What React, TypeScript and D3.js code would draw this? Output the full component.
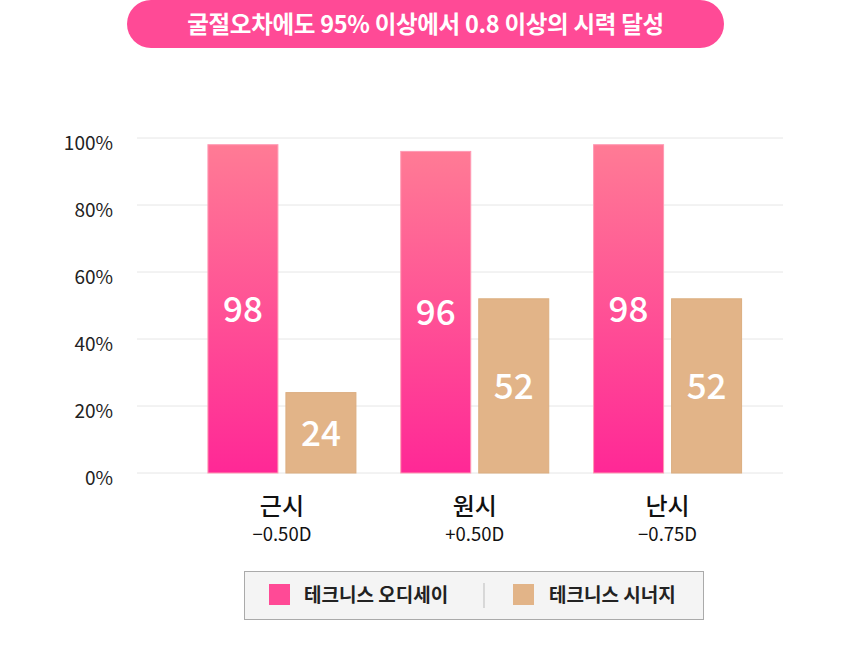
import React from 'react'
import * as d3 from 'd3'

// 굴절오차별 0.8 이상 시력 달성률 (%)
const categories = ['근시', '원시', '난시']
const diopters = ['−0.50D', '+0.50D', '−0.75D']
const seriesNames = ['테크니스 오디세이', '테크니스 시너지']
const odysseyValues = [98, 96, 98]
const synergyValues = [24, 52, 52]
const yTicks = [0, 20, 40, 60, 80, 100]
const title = '굴절오차에도 95% 이상에서 0.8 이상의 시력 달성'

const W = 851
const H = 669
const font = '"Noto Sans CJK KR", "Noto Sans", sans-serif'
const pink = '#ff4a96'
const tan = '#e2b488'

const App = () => {
  const y = d3.scaleLinear().domain([0, 100]).range([473, 138])
  const x0 = d3.scaleBand().domain(categories).range([185.5, 764])
  const x1 = d3.scaleBand().domain(['odyssey', 'synergy']).range([0, 148]).paddingInner(0.1026)
  const groupLeft = (c: string) => (x0(c) as number) + x0.bandwidth() / 2 - 74

  const rows = categories.map((c, i) => ({
    c,
    sub: diopters[i],
    bars: [
      { key: 'odyssey', v: odysseyValues[i] },
      { key: 'synergy', v: synergyValues[i] },
    ],
  }))

  return (
    <svg width={W} height={H} style={{ position: 'absolute', left: 0, top: 0, background: '#fff' }} fontFamily={font}>
      <defs>
        <linearGradient id="pinkGrad" x1="0" y1="0" x2="0" y2="1">
          <stop offset="0%" stopColor="#ff7b95" />
          <stop offset="100%" stopColor="#ff2896" />
        </linearGradient>
      </defs>

      {/* 제목 */}
      <rect x={127} y={0} width={597} height={48} rx={24} fill={pink} />
      <text x={425.5} y={33} textAnchor="middle" fill="#fff" fontSize={23.5} fontWeight={700} letterSpacing={-0.3}>
        {title}
      </text>

      {/* 격자, y축 */}
      {yTicks.map((t) => (
        <g key={t}>
          <line x1={137} x2={783} y1={y(t)} y2={y(t)} stroke="#e6e6e6" strokeWidth={1} />
          <text x={113} y={y(t) + 12} textAnchor="end" fontSize={19} fill="#222">
            {t}%
          </text>
        </g>
      ))}

      {/* 막대 */}
      {rows.map((r) => (
        <g key={r.c} transform={`translate(${groupLeft(r.c)},0)`}>
          {r.bars.map((b) => {
            const bx = x1(b.key) as number
            const top = y(b.v)
            return (
              <g key={b.key}>
                <rect
                  x={bx}
                  y={top}
                  width={x1.bandwidth()}
                  height={y(0) - top}
                  fill={b.key === 'odyssey' ? 'url(#pinkGrad)' : tan}
                  stroke={b.key === 'odyssey' ? '#ff9ab4' : '#dcae80'}
                  strokeWidth={1}
                />
                <text
                  x={bx + x1.bandwidth() / 2}
                  y={(top + y(0)) / 2 + 13}
                  textAnchor="middle"
                  fill="#fff"
                  fontSize={35}
                  fontWeight={500}
                >
                  {b.v}
                </text>
              </g>
            )
          })}
          <text x={74} y={515} textAnchor="middle" fontSize={24} fontWeight={500} fill="#111">
            {r.c}
          </text>
          <text x={74} y={541} textAnchor="middle" fontSize={18.5} fill="#111">
            {r.sub}
          </text>
        </g>
      ))}

      {/* 범례 */}
      <rect x={244.5} y={571.5} width={459} height={48} fill="#f4f4f4" stroke="#aaa" strokeWidth={1} />
      <rect x={269} y={584} width={21} height={21} fill={pink} />
      <text x={304} y={602} fontSize={19} fontWeight={600} fill="#222">
        {seriesNames[0]}
      </text>
      <line x1={484} x2={484} y1={583} y2={608} stroke="#bbb" strokeWidth={1} />
      <rect x={513} y={584} width={21} height={21} fill={tan} />
      <text x={549} y={602} fontSize={19} fontWeight={600} fill="#222">
        {seriesNames[1]}
      </text>
    </svg>
  )
}

export default App
